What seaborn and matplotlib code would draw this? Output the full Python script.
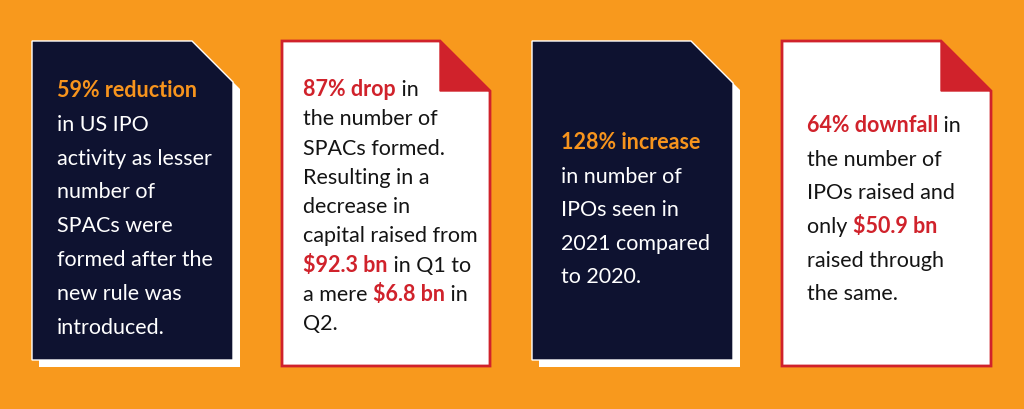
import matplotlib
matplotlib.use("Agg")
import matplotlib.pyplot as plt
from matplotlib.patches import Polygon
import seaborn as sns

# colours
ORANGE_BG = "#F8991D"
NAVY = "#0E1230"
RED = "#D0222B"
ORANGE_TXT = "#F7941D"
INK = "#141414"

# card content: each line is a list of (text, highlighted)
card_styles = ["dark", "light", "dark", "light"]
card_lines = [
    [[("59% reduction", True)],
     [("in US IPO", False)],
     [("activity as lesser", False)],
     [("number of", False)],
     [("SPACs were", False)],
     [("formed after the", False)],
     [("new rule was", False)],
     [("introduced.", False)]],
    [[("87% drop", True), (" in", False)],
     [("the number of", False)],
     [("SPACs formed.", False)],
     [("Resulting in a", False)],
     [("decrease in", False)],
     [("capital raised from", False)],
     [("$92.3 bn", True), (" in Q1 to", False)],
     [("a mere ", False), ("$6.8 bn", True), (" in", False)],
     [("Q2.", False)]],
    [[("128% increase", True)],
     [("in number of", False)],
     [("IPOs seen in", False)],
     [("2021 compared", False)],
     [("to 2020.", False)]],
    [[("64% downfall", True), (" in", False)],
     [("the number of", False)],
     [("IPOs raised and", False)],
     [("only ", False), ("$50.9 bn", True)],
     [("raised through", False)],
     [("the same.", False)]],
]

# layout (pixel space): left, top, right, bottom, corner, text x, first baseline, line step
card_boxes = [
    (32, 42, 233, 361, 41, 57, 97, 33.8),
    (282, 42, 490, 367, 50, 303, 96, 29.3),
    (532, 42, 733, 361, 42, 561, 149, 33.6),
    (782, 42, 991, 367, 50, 807, 132, 33.7),
]

sns.set_theme(style="white")
plt.rcParams["font.family"] = ["Lato", "DejaVu Sans"]

fig = plt.figure(figsize=(10.24, 4.10), dpi=100)
fig.patch.set_facecolor(ORANGE_BG)
ax = fig.add_axes([0, 0, 1, 1])
ax.set_xlim(0, 1024)
ax.set_ylim(410, 0)
ax.axis("off")
ax.set_facecolor(ORANGE_BG)

FS = 15.5


def draw_line(x, y, segments, base_color, hi_color):
    prev = None
    for text, hi in segments:
        kw = dict(fontsize=FS, color=hi_color if hi else base_color,
                  fontweight="bold" if hi else "normal")
        if prev is None:
            prev = ax.text(x, y, text, va="baseline", ha="left", **kw)
        else:
            prev = ax.annotate(text, xy=(1, 0), xycoords=prev,
                               va="bottom", ha="left", **kw)


for style, lines, box in zip(card_styles, card_lines, card_boxes):
    L, T, R, B, c, tx, ty, step = box
    shape = [(L, T), (R - c, T), (R, T + c), (R, B), (L, B)]
    if style == "dark":
        shadow = [(px + 7, py + 7) for px, py in shape]
        ax.add_patch(Polygon(shadow, closed=True, facecolor="white",
                             edgecolor="none", zorder=1))
        ax.add_patch(Polygon(shape, closed=True, facecolor=NAVY,
                             edgecolor="white", linewidth=1.0, zorder=2))
        base, hi = "white", ORANGE_TXT
    else:
        ax.add_patch(Polygon(shape, closed=True, facecolor="white",
                             edgecolor=RED, linewidth=2.0, zorder=2))
        fold = [(R - c, T), (R, T + c), (R - c, T + c)]
        ax.add_patch(Polygon(fold, closed=True, facecolor=RED,
                             edgecolor=RED, linewidth=1.0, zorder=3))
        base, hi = INK, RED
    for i, segs in enumerate(lines):
        draw_line(tx, ty + i * step, segs, base, hi)

fig.savefig("out.png", dpi=100, facecolor=ORANGE_BG)
